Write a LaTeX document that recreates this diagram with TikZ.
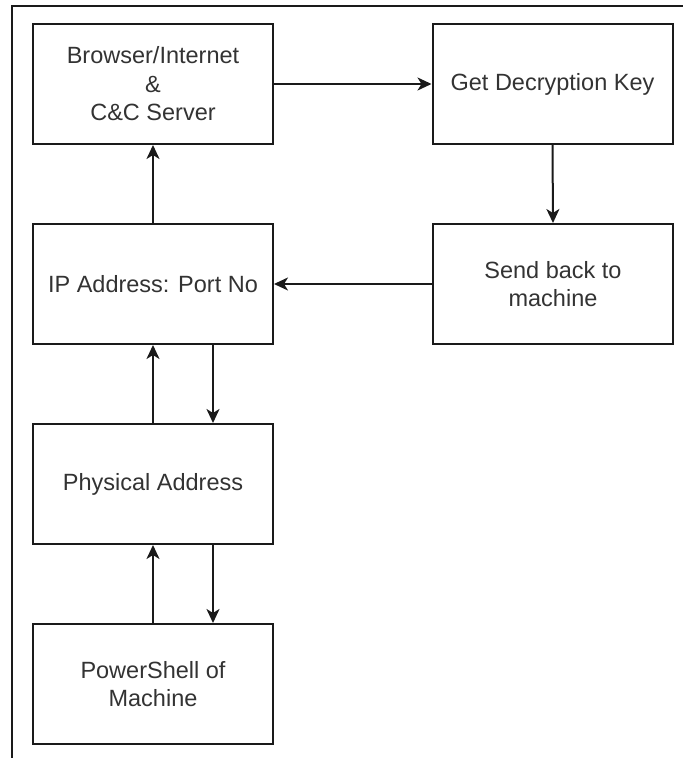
\documentclass[tikz,border=0pt]{standalone}
\usepackage{fontspec}
\setmainfont{Liberation Sans}
\usetikzlibrary{arrows.meta}
\definecolor{txt}{HTML}{333333}
\definecolor{ln}{HTML}{1A1A1A}
\begin{document}
\begin{tikzpicture}[x=1pt,y=1pt,
  box/.style={draw=ln, line width=2pt, fill=white, minimum width=240pt, minimum height=120pt,
    inner sep=0pt, align=center, text=txt, font=\fontsize{23.5}{28.5}\selectfont},
  arr/.style={draw=ln, line width=2pt, -{Stealth[length=14pt,width=13pt,inset=4pt]}}]
\useasboundingbox (0,0) rectangle (683,758);
\fill[white] (0,0) rectangle (683,758);
% frame
\draw[ln, line width=1.4pt] (12,0) -- (12,752) -- (683,752);
% boxes
\node[box] (b1) at (153,674) {Browser/Internet\\\&\\C\&C Server};
\node[box] (b2) at (552.5,674) {Get Decryption Key};
\node[box] (b3) at (553,474) {Send back to\\machine};
\node[box] (b4) at (153,474) {IP Address: Port No};
\node[box] (b5) at (153,274) {Physical Address};
\node[box] (b6) at (153,74) {PowerShell of\\Machine};
% connectors
\draw[arr] (b1.east) -- (b2.west);
\draw[arr] (b2.south) -- (b3.north);
\draw[arr] (b3.west) -- (b4.east);
\draw[arr] (b4.north) -- (b1.south);
\draw[arr] (b5.north) -- (b4.south);
\draw[arr] ([xshift=60pt]b4.south) -- ([xshift=60pt]b5.north);
\draw[arr] (b6.north) -- (b5.south);
\draw[arr] ([xshift=60pt]b5.south) -- ([xshift=60pt]b6.north);
\end{tikzpicture}
\end{document}
